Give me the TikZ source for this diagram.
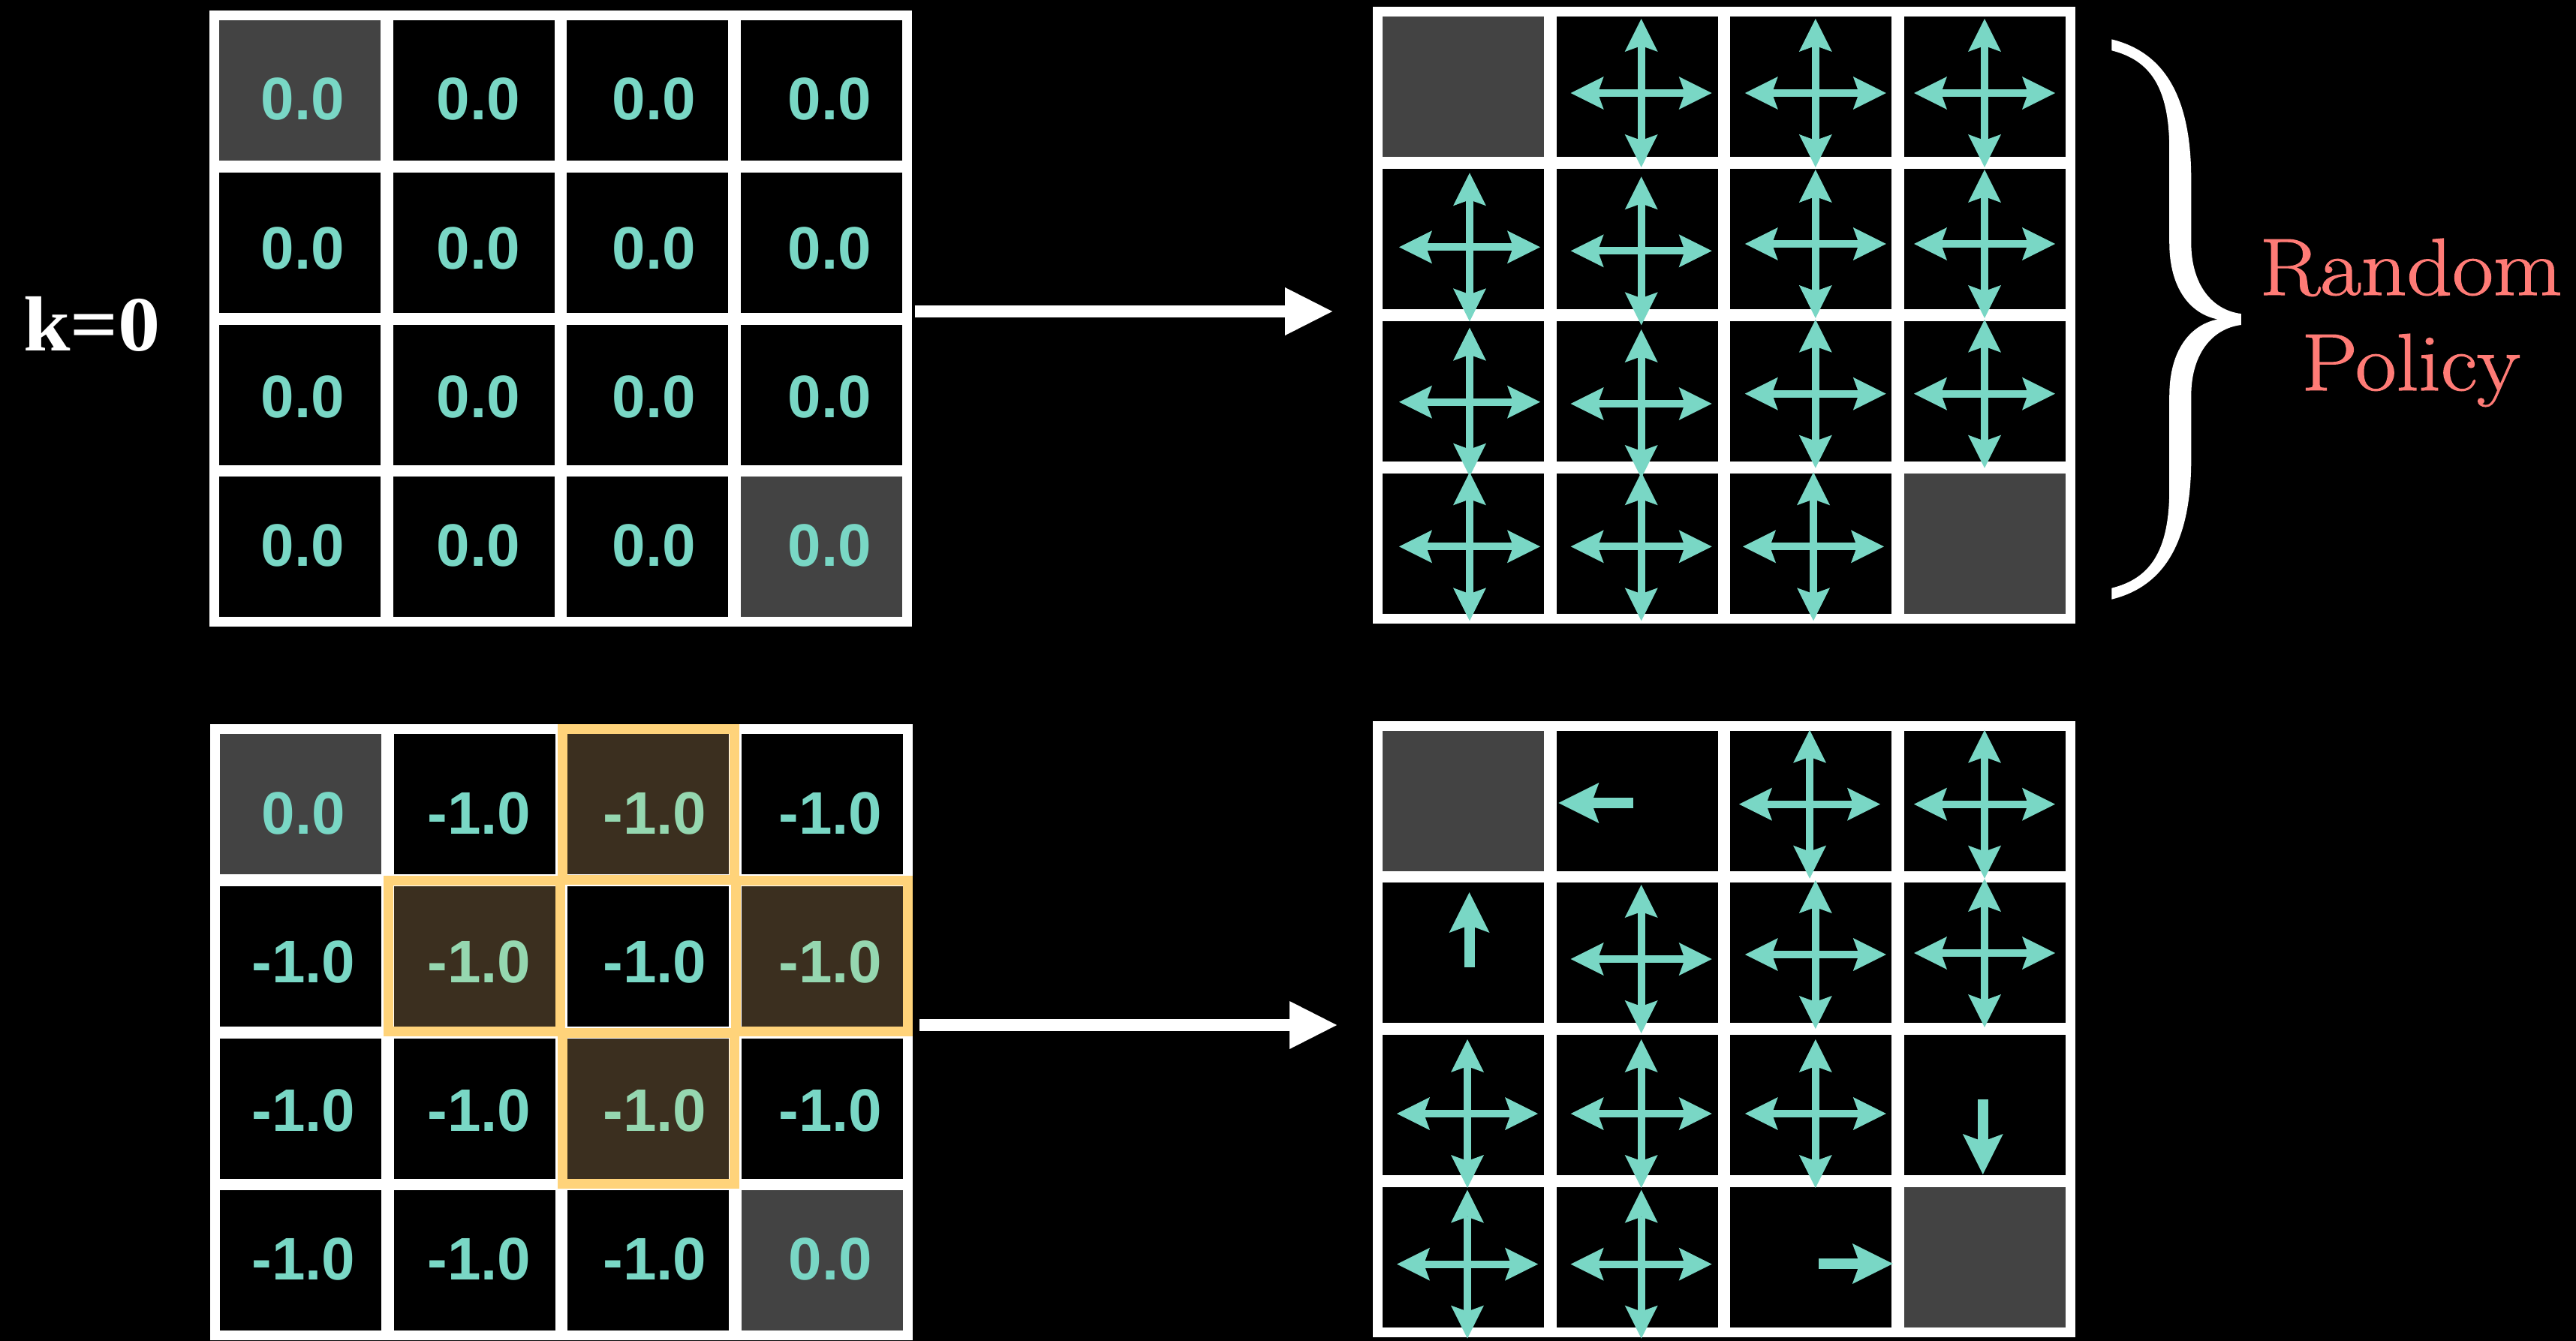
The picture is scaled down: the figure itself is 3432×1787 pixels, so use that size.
\documentclass[tikz,border=0pt]{standalone}
\usepackage{graphicx}
\usepackage{fontspec}
\newfontfamily\cellfont{Liberation Sans}
\newfontfamily\kfont{Liberation Serif}
\newfontface\polfont{Latin Modern Roman}[FakeBold=1.2]
\usetikzlibrary{arrows.meta,calc}

\definecolor{valteal}{HTML}{79D7C5}
\definecolor{termgray}{HTML}{434343}
\definecolor{hlorange}{HTML}{FFD37A}
\definecolor{hlfill}{HTML}{3B2F1F}
\definecolor{hltext}{HTML}{95D7B0}
\definecolor{polsalmon}{HTML}{FF7B76}

\tikzset{
  gridframe/.style={rectangle, fill=white, inner sep=0pt, outer sep=0pt,
    minimum width=935.5pt, minimum height=821.4pt},
  cellbase/.style={rectangle, inner sep=0pt, outer sep=0pt,
    minimum width=215pt, minimum height=187pt},
  plainc/.style={cellbase, fill=black},
  grayc/.style={cellbase, fill=termgray},
  hlc/.style={cellbase, fill=hlfill},
  valtext/.style={anchor=base, inner sep=0pt, text=valteal,
    font=\cellfont\bfseries\fontsize{80pt}{80pt}\selectfont},
  plainv/.style={valtext},
  hlv/.style={valtext, text=hltext},
  hlframe/.style={draw=hlorange, line width=13pt},
  bigtip/.tip={Triangle[length=63pt, width=64pt, line width=0pt]},
  bigarrow/.style={draw=white, line width=16pt, -bigtip},
  qtip/.tip={Stealth[length=44pt, width=44pt, inset=8pt, line width=0pt]},
  quad/.style={draw=valteal, line width=10pt, qtip-qtip},
  stip/.tip={Stealth[length=54pt, width=54pt, inset=10pt, line width=0pt]},
  single/.style={draw=valteal, line width=14pt, -stip},
  fourway/.pic={
    \draw[quad] (0,-99) -- (0,99);
    \draw[quad] (-94,0) -- (94,0);
  }
}

% #1 grid name, #2/#3 top-left corner of the first cell, #4 styles of the 16 cells
\newcommand\drawgrid[4]{%
  \node[gridframe] (#1) at ({#2+454.75},{#3+397.7}) {};
  \foreach \k [count=\i from 0] in {#4} {
    \pgfmathtruncatemacro\rr{floor(\i/4)}
    \pgfmathtruncatemacro\cc{mod(\i,4)}
    \node[\k] (#1-\rr-\cc) at ({#2+\cc*231.5+107.5},{#3+\rr*202.8+93.5}) {};
  }
}
% #1 grid name, #2/#3 top-left corner of the first cell, #4 style/text of the 16 values
\newcommand\gridvalues[4]{%
  \foreach \k/\v [count=\i from 0] in {#4} {
    \pgfmathtruncatemacro\rr{floor(\i/4)}
    \pgfmathtruncatemacro\cc{mod(\i,4)}
    \node[\k] (#1-\rr-\cc-v) at ({#2+\cc*234+111.5},{#3+133+\rr*198}) {\v};
  }
}

\begin{document}
\begin{tikzpicture}[x=1pt, y=-1pt]
\fill[black] (0,0) rectangle (3432,1787);
\useasboundingbox (0,0) rectangle (3432,1787);

% value function, k = 0
\drawgrid{tl}{292}{27}{grayc, plainc, plainc, plainc,
  plainc, plainc, plainc, plainc,
  plainc, plainc, plainc, plainc,
  plainc, plainc, plainc, grayc}
\gridvalues{tl}{292}{27}{plainv/0.0, plainv/0.0, plainv/0.0, plainv/0.0,
  plainv/0.0, plainv/0.0, plainv/0.0, plainv/0.0,
  plainv/0.0, plainv/0.0, plainv/0.0, plainv/0.0,
  plainv/0.0, plainv/0.0, plainv/0.0, plainv/0.0}

% random policy
\drawgrid{tr}{1842}{22.3}{grayc, plainc, plainc, plainc,
  plainc, plainc, plainc, plainc,
  plainc, plainc, plainc, plainc,
  plainc, plainc, plainc, grayc}

% value function after one sweep
\drawgrid{bl}{293}{978}{grayc, plainc, hlc, plainc,
  plainc, hlc, plainc, hlc,
  plainc, plainc, hlc, plainc,
  plainc, plainc, plainc, grayc}

% neighbours of the centre state
\foreach \n in {bl-0-2, bl-1-1, bl-1-3, bl-2-2}
  \draw[hlframe] ([shift={(-7,-7)}]\n.north west) rectangle ([shift={(7,7)}]\n.south east);

\gridvalues{bl}{293}{978}{plainv/0.0, plainv/-1.0, hlv/-1.0, plainv/-1.0,
  plainv/-1.0, hlv/-1.0, plainv/-1.0, hlv/-1.0,
  plainv/-1.0, plainv/-1.0, hlv/-1.0, plainv/-1.0,
  plainv/-1.0, plainv/-1.0, plainv/-1.0, plainv/0.0}

% greedy policy
\drawgrid{br}{1842}{973.5}{grayc, plainc, plainc, plainc,
  plainc, plainc, plainc, plainc,
  plainc, plainc, plainc, plainc,
  plainc, plainc, plainc, grayc}

% four-way arrows of the random policy
\foreach \p in {(2186.7,124), (2418.8,124), (2644,124),
  (1958,329.3), (2186.7,334.3), (2418.8,325), (2644,325),
  (1958,535.7), (2186.7,538), (2418.8,524.7), (2644,524.7),
  (1958,728.3), (2186.7,728.3), (2416,728.3)}
  \pic at \p {fourway};

% arrows of the greedy policy
\foreach \p in {(2411,1071.7), (2644,1071.7),
  (2186.7,1278), (2418.8,1272), (2644,1270),
  (1955,1484), (2186.7,1484), (2418.8,1484),
  (1955,1684.6), (2186.7,1684.6)}
  \pic at \p {fourway};
\draw[single] (2176.4,1070) -- (2076.4,1070);
\draw[single] (1957.6,1289) -- (1957.6,1189);
\draw[single] (2641.8,1465) -- (2641.8,1565);
\draw[single] (2423,1684) -- (2521.8,1684);

% value -> policy connectors
\coordinate (toprow) at (0,415);
\coordinate (botrow) at (0,1366);
\draw[bigarrow] ($(tl.east |- toprow)+(4,0)$) -- ($(tr.west |- toprow)+(-54,0)$);
\draw[bigarrow] ($(bl.east |- botrow)+(9.5,0)$) -- ($(br.west |- botrow)+(-48,0)$);

% labels
\node[anchor=base west, inner sep=0pt, text=white,
  font=\kfont\bfseries\fontsize{104pt}{104pt}\selectfont] (klabel) at (31,467)
  {\scalebox{1.08}[1]{k=0}};

\fill[white] (2813.3,52.4) .. controls (2884.0,69.8) and (2919.3,129.5) .. (2919.3,239.0)
  -- (2919.3,323.5) .. controls (2919.3,378.3) and (2946.3,413.1) .. (2985.8,418.1)
  -- (2985.8,433.0) .. controls (2946.3,438.0) and (2919.3,472.8) .. (2919.3,527.5)
  -- (2919.3,612.1) .. controls (2919.3,721.5) and (2884.0,781.2) .. (2813.3,798.7)
  -- (2813.3,783.7) .. controls (2863.2,771.3) and (2890.2,736.5) .. (2890.2,651.9)
  -- (2890.2,527.5) .. controls (2890.2,467.8) and (2917.2,433.0) .. (2954.6,425.5)
  .. controls (2917.2,418.1) and (2890.2,383.2) .. (2890.2,323.5)
  -- (2890.2,199.2) .. controls (2890.2,114.6) and (2863.2,79.8) .. (2813.3,67.3) -- cycle;

\node[anchor=base, inner sep=0pt, text=polsalmon,
  font=\polfont\fontsize{108pt}{108pt}\selectfont] (rand) at (3212,393)
  {\scalebox{1.1}[1]{Random}};
\node[anchor=base, inner sep=0pt, text=polsalmon,
  font=\polfont\fontsize{108pt}{108pt}\selectfont] (pol) at (3212,520)
  {\scalebox{1.1}[1]{Policy}};
\end{tikzpicture}
\end{document}
